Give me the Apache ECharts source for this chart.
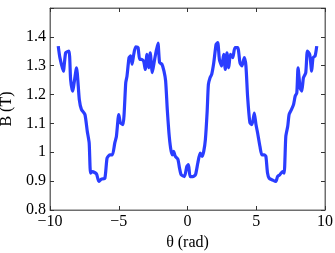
<!DOCTYPE html>
<html><head><meta charset="utf-8">
<script src="https://cdn.jsdelivr.net/npm/echarts@6/dist/echarts.min.js"></script>
<style>html,body{margin:0;padding:0;background:#fff}#c{width:335px;height:253px}</style>
</head><body><div id="c"></div>
<script>
const theta = [-9.40,-9.28,-9.03,-8.86,-8.62,-8.50,-8.36,-8.07,-7.87,-7.71,-7.46,-7.29,-7.15,-7.05,-6.91,-6.62,-6.45,-6.26,-6.01,-5.85,-5.65,-5.46,-5.29,-5.17,-5.00,-4.88,-4.69,-4.49,-4.40,-4.25,-4.13,-4.03,-3.91,-3.77,-3.60,-3.48,-3.36,-3.19,-3.07,-2.95,-2.83,-2.71,-2.56,-2.39,-2.15,-2.03,-1.86,-1.71,-1.59,-1.47,-1.35,-1.23,-1.11,-1.01,-0.89,-0.70,-0.58,-0.46,-0.22,-0.05,0.07,0.19,0.39,0.58,0.75,0.92,1.06,1.18,1.30,1.43,1.52,1.64,1.76,1.91,2.08,2.20,2.32,2.49,2.63,2.75,2.87,3.00,3.12,3.29,3.45,3.65,3.82,3.96,4.13,4.25,4.37,4.54,4.69,4.86,4.98,5.10,5.27,5.41,5.58,5.70,5.82,5.94,6.18,6.43,6.55,6.71,6.91,7.03,7.15,7.29,7.39,7.56,7.71,7.83,7.95,8.04,8.19,8.31,8.43,8.60,8.72,8.89,9.03,9.13,9.28,9.40];
const bField = [1.368,1.328,1.281,1.345,1.351,1.252,1.212,1.293,1.183,1.148,1.131,1.073,1.032,0.928,0.933,0.925,0.899,0.907,0.910,0.980,0.991,0.991,1.032,1.055,1.131,1.102,1.096,1.241,1.264,1.328,1.334,1.305,1.339,1.365,1.363,1.322,1.322,1.316,1.287,1.339,1.293,1.345,1.276,1.322,1.378,1.311,1.305,1.281,1.247,1.148,1.067,1.015,0.991,1.003,0.986,0.976,0.945,0.922,0.916,0.951,0.957,0.916,0.916,0.922,0.963,0.997,0.986,1.003,1.044,1.142,1.235,1.258,1.270,1.310,1.374,1.380,1.322,1.299,1.339,1.287,1.345,1.293,1.339,1.328,1.363,1.363,1.310,1.299,1.328,1.299,1.194,1.102,1.096,1.136,1.096,1.067,1.020,0.991,0.991,0.986,0.928,0.910,0.904,0.899,0.916,0.922,0.933,0.928,1.055,1.090,1.131,1.148,1.165,1.194,1.206,1.293,1.223,1.212,1.258,1.276,1.351,1.339,1.281,1.328,1.334,1.368];
const xTicks = [-10,-5,0,5,10];
const yTicks = [0.8,0.9,1,1.1,1.2,1.3,1.4];
const xName = 'θ (rad)';
const yName = 'B (T)';

const font = 'Liberation Serif';
const chart = echarts.init(document.getElementById('c'));
const axCol = '#6e6e6e';
const lineStyle = {show:true, onZero:false, lineStyle:{color:axCol, width:1}};
const tickIn = {show:true, inside:true, length:4, lineStyle:{color:'#333', width:1}};
chart.setOption({
  animation:false,
  grid:{left:50, right:10, top:8, bottom:43, show:true, borderColor:axCol, borderWidth:1, backgroundColor:'transparent', outerBoundsMode:'none', containLabel:false},
  xAxis:[{
    type:'value', min:-10, max:10, interval:5, position:'bottom',
    axisLine:lineStyle, axisTick:tickIn, splitLine:{show:false},
    axisLabel:{color:'#000', fontFamily:font, fontSize:16, margin:4,
      formatter:v=> xTicks.includes(v) ? String(v).replace('-', '\u2212') : ''},
    name:xName, nameLocation:'middle', nameGap:25,
    nameTextStyle:{color:'#000', fontFamily:font, fontSize:16}
  },{
    type:'value', min:-10, max:10, interval:5, position:'top',
    axisLine:lineStyle, axisTick:tickIn, axisLabel:{show:false}, splitLine:{show:false}
  }],
  yAxis:[{
    type:'value', min:0.8, max:1.5, interval:0.1, position:'left',
    axisLine:lineStyle, axisTick:tickIn, splitLine:{show:false},
    axisLabel:{color:'#000', fontFamily:font, fontSize:16, margin:4,
      formatter:v=>{const r=Math.round(v*10)/10; return yTicks.includes(r)? String(r):'';}},
    name:yName, nameLocation:'middle', nameGap:27, nameRotate:90,
    nameTextStyle:{color:'#000', fontFamily:font, fontSize:16}
  },{
    type:'value', min:0.8, max:1.5, interval:0.1, position:'right',
    axisLine:lineStyle, axisTick:tickIn, axisLabel:{show:false}, splitLine:{show:false}
  }],
  series:[{
    type:'line', xAxisIndex:0, yAxisIndex:0, showSymbol:false, smooth:0.2,
    lineStyle:{color:'#2a3dff', width:3.2},
    data: theta.map((t,i)=>[t, bField[i]])
  }]
});
</script></body></html>
